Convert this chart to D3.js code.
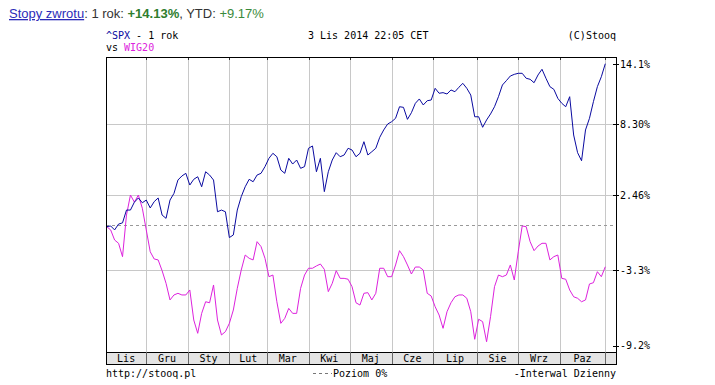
<!DOCTYPE html>
<html>
<head>
<meta charset="utf-8">
<script src="https://cdn.jsdelivr.net/npm/d3@7"></script>
<style>
  body { margin: 0; background: #fff; }
  svg { display: block; }
  .mono { font-family: "DejaVu Sans Mono", "Liberation Mono", monospace; font-size: 10px; }
</style>
</head>
<body>
<div class="chart"></div>
<script>
// dane (stopy zwrotu w %, co 2 sesje)
const months = ["Lis", "Gru", "Sty", "Lut", "Mar", "Kwi", "Maj", "Cze", "Lip", "Sie", "Wrz", "Paz"];
// numer sesji, od ktorej zaczyna sie kazdy miesiac (ostatni = Lis 2014)
const monthStart = [0, 20, 41, 62, 81, 102, 123, 144, 165, 187, 208, 229, 252];
const yTicks = [14.1, 8.30, 2.46, -3.3, -9.2];
const yTickLabels = ["14.1%", "8.30%", "2.46%", "-3.3%", "-9.2%"];
const step = 2;

const spx = [
  -0.1, -0.05, -0.34, 0.1, 0.2, 1.25, 1.25, 1.9, 2.24, 1.85,
  2.07, 1.42, 1.94, 2.24, 0.84, 0.57, 2.07, 2.62, 3.71, 4.04,
  4.26, 3.3, 3.77, 3.98, 3.16, 4.39, 4.12, 3.71, 1.11, 1.25,
  1.11, -0.9, -0.71, 1.25, 2.35, 3.16, 3.77, 3.57, 4.12, 4.26,
  4.81, 5.49, 5.9, 5.62, 4.53, 4.26, 5.49, 5.02, 5.35, 4.67,
  4.81, 6.31, 6.5, 4.39, 5.49, 2.76, 4.39, 5.35, 5.95, 5.62,
  5.76, 6.31, 6.17, 5.62, 5.9, 6.85, 5.76, 6.03, 6.31, 7.21,
  7.81, 8.3, 8.52, 8.85, 9.97, 9.91, 8.75, 9.39, 10.3, 10.72,
  10.14, 10.55, 10.62, 11.75, 11.27, 11.33, 11.2, 11.59, 11.42, 11.85,
  12.23, 11.75, 11.1, 9.0, 9.0, 8.03, 8.69, 9.27, 9.97, 10.94,
  12.07, 12.49, 12.94, 13.1, 13.2, 13.2, 12.72, 12.62, 12.29, 13.04,
  13.59, 12.72, 11.91, 11.65, 10.78, 10.3, 9.97, 10.94, 7.4, 5.95,
  5.29, 7.81, 8.85, 10.46, 11.91, 12.87, 14.13
];

const wig20 = [
  -0.1, -0.34, -1.08, -1.32, -2.3, 0.84, 2.48, 1.9, 2.48, 1.4,
  -0.34, -1.94, -2.47, -2.54, -3.33, -4.32, -5.62, -5.23, -5.1, -5.23,
  -5.23, -4.84, -7.19, -8.23, -6.67, -5.76, -5.84, -4.45, -7.19, -8.36,
  -8.1, -7.45, -6.41, -4.71, -3.28, -2.18, -2.42, -2.54, -1.2, -1.56,
  -2.42, -3.8, -3.67, -5.76, -7.45, -7.06, -6.28, -6.67, -6.67, -4.71,
  -3.67, -3.15, -3.15, -2.98, -2.84, -3.23, -4.97, -4.32, -3.33, -3.93,
  -3.93, -4.0, -4.58, -5.84, -6.02, -5.1, -5.05, -5.62, -5.1, -3.15,
  -3.15, -3.8, -3.8, -2.91, -1.86, -2.3, -2.91, -3.59, -3.06, -3.06,
  -3.28, -5.1, -5.31, -6.15, -6.8, -7.84, -6.54, -5.84, -5.37, -5.23,
  -5.23, -5.49, -6.54, -8.7, -7.13, -7.32, -8.89, -6.93, -4.58, -3.67,
  -3.8, -3.67, -2.91, -4.06, -1.94, -0.05, -0.1, -1.2, -1.86, -1.52,
  -1.32, -1.32, -2.54, -2.3, -2.18, -3.93, -4.0, -4.84, -5.37, -5.49,
  -5.76, -5.62, -4.37, -4.27, -3.41, -3.8, -3.04
];

const W = 715, H = 385;
const pLeft = 106, pRight = 616, pTop = 57, pBottom = 352, bandBottom = 364;

const svg = d3.select('.chart').append('svg')
    .attr('width', W)
    .attr('height', H);

// skale: os X w sesjach, os Y wg etykiet z wykresu
const x = d3.scaleLinear().domain([0, 252]).range([106.7, 605.3]);
const y = d3.scaleLinear()
    .domain([-9.2, -3.3, 0, 2.46, 8.30, 14.1])
    .range([345.7, 270.3, 225.3, 195.3, 124, 64]);

// naglowek
const head = svg.append('text')
    .attr('x', 9).attr('y', 18)
    .style('font-family', '"Liberation Sans", Arial, sans-serif')
    .style('font-size', '13px')
    .attr('fill', '#333');
head.append('tspan').text('Stopy zwrotu').attr('fill', '#2b2bb8').style('text-decoration', 'underline');
head.append('tspan').text(': 1 rok: ');
head.append('tspan').text('+14.13%').attr('fill', '#2e7d2e').style('font-weight', 'bold');
head.append('tspan').text(', YTD: ');
head.append('tspan').text('+9.17%').attr('fill', '#3a8a3a');

const t1 = svg.append('text').attr('class', 'mono').attr('x', pLeft).attr('y', 39).attr('fill', '#000');
t1.append('tspan').text('^SPX').attr('fill', '#0a0aa0');
t1.append('tspan').text(' - 1 rok');
const t2 = svg.append('text').attr('class', 'mono').attr('x', pLeft).attr('y', 51).attr('fill', '#000');
t2.append('tspan').text('vs  ');
t2.append('tspan').text('WIG20').attr('fill', '#dd22dd');

svg.append('text').attr('class', 'mono').attr('x', 308).attr('y', 39).text('3 Lis 2014 22:05 CET');
svg.append('text').attr('class', 'mono').attr('x', pRight).attr('y', 39)
    .attr('text-anchor', 'end').text('(C)Stooq');

const px = v => Math.round(v) + 0.5;

// siatka pionowa
const vg = monthStart.slice(1);
svg.selectAll('line.vgrid').data(vg).enter().append('line')
    .attr('class', 'vgrid')
    .attr('x1', d => px(x(d))).attr('x2', d => px(x(d)))
    .attr('y1', pTop).attr('y2', pBottom)
    .attr('stroke', '#c8c8c8');

// siatka pozioma
svg.selectAll('line.hgrid').data(yTicks.slice(1, 4)).enter().append('line')
    .attr('class', 'hgrid')
    .attr('x1', pLeft).attr('x2', pRight)
    .attr('y1', d => px(y(d))).attr('y2', d => px(y(d)))
    .attr('stroke', '#c8c8c8');

// poziom 0%
svg.append('line')
    .attr('x1', pLeft).attr('x2', pRight)
    .attr('y1', px(y(0))).attr('y2', px(y(0)))
    .attr('stroke', '#999').attr('stroke-dasharray', '3,3');

// pasek miesiecy
svg.append('rect')
    .attr('x', pLeft + 0.5).attr('y', pBottom + 0.5)
    .attr('width', pRight - pLeft).attr('height', bandBottom - pBottom)
    .attr('fill', '#e4e4e4').attr('stroke', '#000');
svg.selectAll('line.vtick').data(vg).enter().append('line')
    .attr('class', 'vtick')
    .attr('x1', d => px(x(d))).attr('x2', d => px(x(d)))
    .attr('y1', pBottom).attr('y2', bandBottom)
    .attr('stroke', '#666');
svg.selectAll('line.ttick').data(vg).enter().append('line')
    .attr('class', 'ttick')
    .attr('x1', d => px(x(d))).attr('x2', d => px(x(d)))
    .attr('y1', pTop).attr('y2', pTop + 3)
    .attr('stroke', '#333');

svg.selectAll('text.month').data(months).enter().append('text')
    .attr('class', 'mono month')
    .attr('x', (d, i) => (i === 0 ? (pLeft + x(monthStart[1])) / 2 : (x(monthStart[i]) + x(monthStart[i + 1])) / 2))
    .attr('y', 362)
    .attr('text-anchor', 'middle')
    .text(d => d);

// linie
const line = d3.line()
    .x((d, i) => x(i * step))
    .y(d => y(d));

svg.append('path').datum(wig20)
    .attr('d', line)
    .attr('fill', 'none')
    .attr('stroke', '#dd22dd')
    .attr('stroke-width', 1);

svg.append('path').datum(spx)
    .attr('d', line)
    .attr('fill', 'none')
    .attr('stroke', '#0a0aa0')
    .attr('stroke-width', 1);

// ramka
svg.append('rect')
    .attr('x', pLeft + 0.5).attr('y', pTop + 0.5)
    .attr('width', pRight - pLeft).attr('height', bandBottom - pTop)
    .attr('fill', 'none').attr('stroke', '#000');

// os Y po prawej
svg.selectAll('line.ytick').data(yTicks).enter().append('line')
    .attr('class', 'ytick')
    .attr('x1', pRight - 3).attr('x2', pRight + 3)
    .attr('y1', d => px(y(d))).attr('y2', d => px(y(d)))
    .attr('stroke', '#000');
svg.selectAll('text.ylab').data(yTicks).enter().append('text')
    .attr('class', 'mono ylab')
    .attr('x', pRight + 4)
    .attr('y', d => y(d) + 3.5)
    .text((d, i) => yTickLabels[i]);

// stopka
svg.append('text').attr('class', 'mono').attr('x', pLeft).attr('y', 377).text('http://stooq.pl');
svg.append('line')
    .attr('x1', 313).attr('x2', 332).attr('y1', 373.5).attr('y2', 373.5)
    .attr('stroke', '#777').attr('stroke-dasharray', '3,3');
svg.append('text').attr('class', 'mono').attr('x', 333).attr('y', 377).text('Poziom 0%');
svg.append('text').attr('class', 'mono').attr('x', pRight).attr('y', 377)
    .attr('text-anchor', 'end').text('-Interwal Dzienny');
</script>
</body>
</html>
